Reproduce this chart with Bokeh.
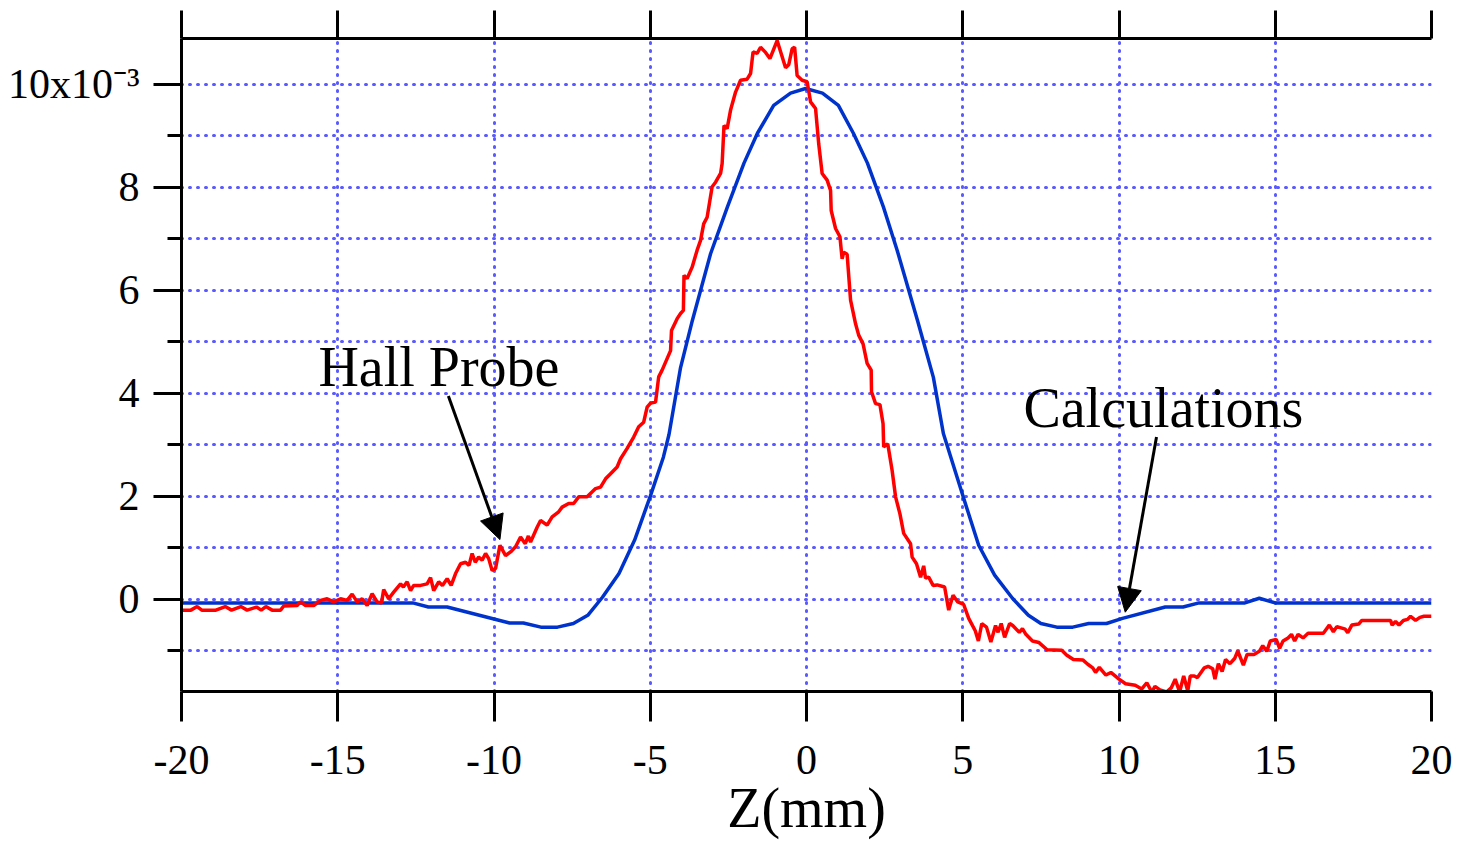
from bokeh.plotting import figure
from bokeh.models import (LinearAxis, FixedTicker, Grid, Label, Arrow, NormalHead, Range1d)
from bokeh.embed import file_html
from bokeh.resources import INLINE

# ---------------- data ----------------
# Hall probe measurement (red)
z_hall = [-20.0, -19.7, -19.5, -19.35, -18.9, -18.6, -18.4, -18.1, -17.9, -17.6, -17.45, -17.3,
          -17.1, -16.83, -16.73, -16.3, -16.19, -16.03, -15.77, -15.55, -15.34, -15.13, -14.91,
          -14.7, -14.54, -14.38, -14.22, -14.06, -13.9, -13.74, -13.6, -13.53, -13.37, -13.21,
          -12.99, -12.9, -12.78, -12.67, -12.57, -12.35, -12.14, -12.03, -11.93, -11.77, -11.65,
          -11.5, -11.37, -11.23, -11.07, -10.91, -10.8, -10.7, -10.6, -10.49, -10.38, -10.27,
          -10.17, -10.06, -9.95, -9.81, -9.63, -9.47, -9.31, -9.15, -9.0, -8.9, -8.83, -8.62,
          -8.51, -8.3, -8.14, -7.93, -7.82, -7.61, -7.45, -7.29, -7.02, -6.75, -6.59, -6.43,
          -6.27, -6.06, -5.95, -5.74, -5.53, -5.37, -5.21, -5.1, -4.99, -4.83, -4.73, -4.62,
          -4.35, -4.32, -4.14, -4.03, -3.94, -3.92, -3.82, -3.66, -3.5, -3.39, -3.29, -3.18,
          -3.02, -2.91, -2.75, -2.7, -2.64, -2.54, -2.43, -2.27, -2.11, -1.9, -1.79, -1.71,
          -1.58, -1.47, -1.31, -1.17, -0.94, -0.67, -0.57, -0.46, -0.38, -0.3, -0.14, 0.02,
          0.13, 0.29, 0.39, 0.5, 0.66, 0.77, 0.79, 0.93, 1.07, 1.14, 1.19, 1.3, 1.41, 1.57,
          1.67, 1.81, 1.94, 2.07, 2.08, 2.21, 2.35, 2.45, 2.47, 2.6, 2.74, 2.85, 2.99, 3.11,
          3.33, 3.38, 3.52, 3.65, 3.75, 3.81, 3.91, 4.05, 4.18, 4.42, 4.55, 4.69, 4.84, 5.03,
          5.19, 5.4, 5.5, 5.61, 5.76, 5.9, 6.05, 6.13, 6.23, 6.34, 6.5, 6.6, 6.81, 6.91, 7.02,
          7.23, 7.44, 7.7, 8.17, 8.32, 8.54, 8.85, 9.0, 9.16, 9.25, 9.37, 9.58, 9.74, 10.0,
          10.21, 10.52, 10.73, 10.89, 11.05, 11.15, 11.31, 11.52, 11.67, 11.8, 11.94, 12.07,
          12.2, 12.28, 12.41, 12.51, 12.73, 12.85, 13.0, 13.07, 13.18, 13.3, 13.41, 13.55,
          13.7, 13.8, 13.98, 14.1, 14.32, 14.49, 14.6, 14.73, 14.84, 15.03, 15.14, 15.25,
          15.41, 15.52, 15.62, 15.73, 15.89, 16.05, 16.54, 16.73, 16.86, 16.97, 17.24, 17.32,
          17.45, 17.67, 17.77, 18.69, 18.74, 18.85, 18.96, 19.1, 19.23, 19.33, 19.49, 19.63,
          19.76, 20.0]
b_hall = [-0.21, -0.21, -0.14, -0.21, -0.21, -0.14, -0.21, -0.14, -0.21, -0.15, -0.21, -0.14,
          -0.21, -0.21, -0.13, -0.12, -0.05, -0.12, -0.12, -0.02, 0.01, -0.05, 0.01,
          -0.02, 0.10, -0.05, 0.01, -0.12, 0.11, -0.05, -0.07, 0.19, 0.01, 0.14,
          0.30, 0.24, 0.34, 0.17, 0.27, 0.27, 0.30, 0.42, 0.17, 0.34, 0.27,
          0.40, 0.27, 0.50, 0.69, 0.72, 0.66, 0.89, 0.72, 0.82, 0.76, 0.89,
          0.79, 0.56, 0.60, 1.05, 0.85, 0.92, 1.02, 1.21, 1.08, 1.23, 1.11, 1.40,
          1.53, 1.44, 1.60, 1.70, 1.79, 1.86, 1.86, 1.99, 1.99, 2.15, 2.18, 2.34,
          2.44, 2.57, 2.73, 2.93, 3.15, 3.35, 3.44, 3.73, 3.81, 3.83, 4.32, 4.45,
          4.83, 5.22, 5.45, 5.55, 5.61, 6.29, 6.23, 6.45, 6.78, 6.97, 7.29, 7.42,
          8.01, 8.10, 8.27, 8.46, 9.20, 9.14, 9.50, 9.85, 10.08, 10.10, 10.21, 10.63,
          10.60, 10.72, 10.62, 10.50, 10.85, 10.32, 10.38, 10.69, 10.72, 10.17, 10.08, 10.05,
          9.66, 9.53, 8.85, 8.27, 8.14, 7.94, 7.55, 7.20, 7.04, 6.61, 6.74, 6.70, 5.81, 5.35,
          5.13, 4.96, 4.58, 4.45, 4.03, 3.80, 3.78, 3.41, 2.96, 3.02, 2.50, 1.99, 1.66, 1.28,
          1.08, 0.82, 0.69, 0.43, 0.65, 0.41, 0.43, 0.27, 0.28, 0.24, -0.21, 0.08, -0.05, -0.10,
          -0.37, -0.61, -0.81, -0.47, -0.54, -0.83, -0.51, -0.64, -0.47, -0.74, -0.47, -0.51, -0.64, -0.57, -0.68,
          -0.81, -0.84, -0.98, -0.99, -1.08, -1.17, -1.18, -1.26, -1.33, -1.42, -1.32, -1.47, -1.42, -1.55,
          -1.64, -1.67, -1.74, -1.62, -1.80, -1.69, -1.76, -1.80, -1.72, -1.55, -1.80, -1.49,
          -1.78, -1.49, -1.49, -1.52, -1.33, -1.30, -1.35, -1.55, -1.25, -1.40, -1.17, -1.25,
          -1.15, -1.00, -1.28, -1.07, -1.07, -1.01, -0.90, -1.01, -0.81, -0.78, -0.95, -0.81,
          -0.75, -0.68, -0.81, -0.68, -0.75, -0.66, -0.66, -0.50, -0.63, -0.53, -0.58, -0.65,
          -0.50, -0.48, -0.41, -0.41, -0.50, -0.43, -0.50, -0.41, -0.39, -0.33, -0.41, -0.35,
          -0.33, -0.33]

# Calculation (blue)
z_calc = [-20.0, -12.6, -12.1, -11.5, -9.5, -9.06, -8.5, -7.97, -7.46, -7.0, -6.53, -6.0,
          -5.5, -5.0, -4.58, -4.4, -4.03, -3.65, -3.07, -2.53, -2.0, -1.57, -1.05, -0.51,
          -0.03, 0.51, 1.02, 1.5, 1.95, 2.46, 2.9, 3.55, 4.06, 4.38, 5.02, 5.51, 6.02, 6.59,
          7.1, 7.5, 8.01, 8.52, 9.03, 9.6, 10.11, 11.48, 12.05, 12.56, 14.03, 14.49, 15.0, 20.0]
b_calc = [-0.07, -0.07, -0.15, -0.15, -0.46, -0.46, -0.54, -0.54, -0.47, -0.31, 0.04, 0.50,
          1.15, 2.00, 2.76, 3.20, 4.50, 5.42, 6.71, 7.62, 8.47, 9.05, 9.59, 9.83,
          9.92, 9.83, 9.59, 9.05, 8.47, 7.62, 6.78, 5.42, 4.31, 3.22, 1.98, 1.05, 0.47, 0.02,
          -0.31, -0.47, -0.54, -0.54, -0.47, -0.47, -0.37, -0.15, -0.15, -0.07, -0.07, 0.02, -0.07, -0.07]

x_major_ticks = [-20, -15, -10, -5, 0, 5, 10, 15, 20]
x_tick_labels = ["-20", "-15", "-10", "-5", "0", "5", "10", "15", "20"]
y_major_ticks = [0, 2, 4, 6, 8, 10]
y_tick_labels = ["0", "2", "4", "6", "8", "10x10\u207b\u00b3"]
y_minor_ticks = [-1, 1, 3, 5, 7, 9]
y_grid_ticks = [-1, 0, 1, 2, 3, 4, 5, 6, 7, 8, 9, 10]
x_grid_ticks = [-15, -10, -5, 0, 5, 10, 15, 20]
x_label = "Z(mm)"
name_hall = "Hall Probe"
name_calc = "Calculations"

FONT = "Liberation Serif"

p = figure(width=1459, height=842, x_range=Range1d(-20, 20), y_range=Range1d(-1.79, 10.89),
           output_backend="svg", toolbar_location=None,
           x_axis_location=None, y_axis_location=None,
           min_border_left=181, min_border_right=28, min_border_top=38, min_border_bottom=151)
p.outline_line_color = None
p.grid.visible = False
p.background_fill_color = "white"
p.border_fill_color = "white"

GRID_COLOR = "#5a5aff"
gx = Grid(dimension=0, ticker=FixedTicker(ticks=x_grid_ticks), grid_line_color=GRID_COLOR,
          grid_line_width=3, grid_line_dash="1 7", grid_line_cap="round")
gy = Grid(dimension=1, ticker=FixedTicker(ticks=y_grid_ticks), grid_line_color=GRID_COLOR,
          grid_line_width=3, grid_line_dash="1 7", grid_line_cap="round")
p.add_layout(gx)
p.add_layout(gy)

# bottom axis
xb = LinearAxis(ticker=FixedTicker(ticks=x_major_ticks, minor_ticks=[]),
                major_label_overrides=dict(zip(x_major_ticks, x_tick_labels)),
                major_label_text_font=FONT, major_label_text_font_size="42px",
                major_label_text_color="black", major_label_standoff=24,
                axis_label=x_label, axis_label_text_font=FONT, axis_label_text_font_size="56px",
                axis_label_text_font_style="normal", axis_label_text_color="black",
                axis_label_standoff=0,
                axis_line_width=3, major_tick_line_width=3, major_tick_out=30, major_tick_in=0,
                minor_tick_out=0, minor_tick_in=0)
p.add_layout(xb, "below")

# top axis (ticks only)
xt = LinearAxis(ticker=FixedTicker(ticks=x_major_ticks, minor_ticks=[]),
                major_label_text_font_size="0px", major_label_text_color=None,
                axis_line_width=3, major_tick_line_width=3, major_tick_out=28, major_tick_in=0,
                minor_tick_out=0, minor_tick_in=0)
p.add_layout(xt, "above")

# left axis
yl = LinearAxis(ticker=FixedTicker(ticks=y_major_ticks, minor_ticks=y_minor_ticks),
                major_label_overrides=dict(zip(y_major_ticks, y_tick_labels)),
                major_label_text_font=FONT, major_label_text_font_size="42px",
                major_label_text_color="black", major_label_standoff=14,
                axis_line_width=3, major_tick_line_width=3, major_tick_out=28, major_tick_in=0,
                minor_tick_line_width=3, minor_tick_out=14, minor_tick_in=0)
p.add_layout(yl, "left")

p.line(z_calc, b_calc, line_color="#0033cc", line_width=3.5)
p.line(z_hall, b_hall, line_color="#ff0000", line_width=3.5)

p.add_layout(Label(x=-15.62, y=4.51, text=name_hall, text_font=FONT, text_font_size="56px",
                   text_color="black", text_baseline="alphabetic"))
p.add_layout(Label(x=6.94, y=3.71, text=name_calc, text_font=FONT, text_font_size="56px",
                   text_color="black", text_baseline="alphabetic"))

p.add_layout(Arrow(x_start=-11.46, y_start=3.95, x_end=-9.81, y_end=1.16, line_width=3,
                   line_color="black",
                   end=NormalHead(size=24, fill_color="black", line_color="black")))
p.add_layout(Arrow(x_start=11.2, y_start=3.15, x_end=10.2, y_end=-0.25, line_width=3,
                   line_color="black",
                   end=NormalHead(size=24, fill_color="black", line_color="black")))

open("out.html", "w").write(file_html(p, INLINE))
